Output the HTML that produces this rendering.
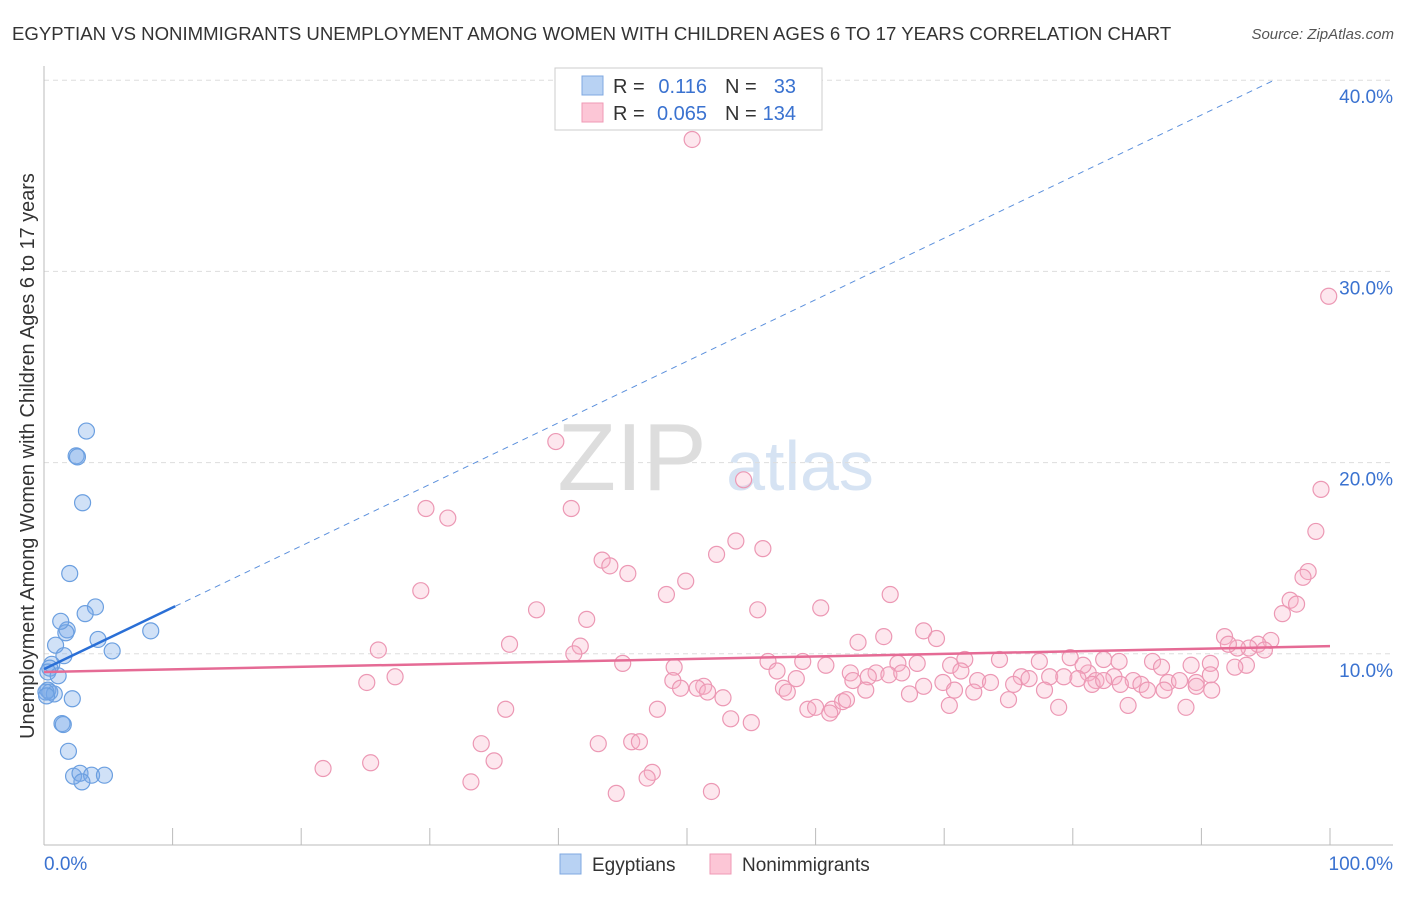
<!DOCTYPE html>
<html><head><meta charset="utf-8"><style>
body{margin:0;background:#fff;font-family:"Liberation Sans",sans-serif;}
svg text{font-family:"Liberation Sans",sans-serif;}
</style></head><body>
<svg id="c" width="1406" height="892">
<text x="12" y="40" font-size="18.6" fill="#333">EGYPTIAN VS NONIMMIGRANTS UNEMPLOYMENT AMONG WOMEN WITH CHILDREN AGES 6 TO 17 YEARS CORRELATION CHART</text>
<text x="1394" y="39" font-size="15" fill="#555" font-style="italic" text-anchor="end">Source: ZipAtlas.com</text>
<text x="632" y="490" font-size="96" fill="#ddd" font-family="Liberation Serif" text-anchor="middle">ZIP</text>
<text x="800" y="490" font-size="70" fill="#d6e3f3" text-anchor="middle">atlas</text>
<text transform="translate(34,456) rotate(-90)" font-size="19.9" fill="#333" text-anchor="middle">Unemployment Among Women with Children Ages 6 to 17 years</text>
<g id="axes"></g>
<g id="marks"></g>
<g>
<rect x="555" y="68" width="267" height="62" fill="#fff" stroke="#ccc"/>
<rect x="582" y="76" width="21" height="19" fill="#b8d2f3" stroke="#7fa8e0"/>
<rect x="582" y="103" width="21" height="19" fill="#fcc6d6" stroke="#ef9ab5"/>
<text x="613" y="93" font-size="20" fill="#333">R =</text><text x="707" y="93" font-size="20" fill="#3a72d0" text-anchor="end">0.116</text>
<text x="725" y="93" font-size="20" fill="#333">N =</text><text x="796" y="93" font-size="20" fill="#3a72d0" text-anchor="end">33</text>
<text x="613" y="120" font-size="20" fill="#333">R =</text><text x="707" y="120" font-size="20" fill="#3a72d0" text-anchor="end">0.065</text>
<text x="725" y="120" font-size="20" fill="#333">N =</text><text x="796" y="120" font-size="20" fill="#3a72d0" text-anchor="end">134</text>
</g>
<g>
<rect x="560" y="854" width="21" height="20" fill="#b8d2f3" stroke="#7fa8e0"/>
<text x="592" y="871" font-size="19" fill="#333">Egyptians</text>
<rect x="710" y="854" width="21" height="20" fill="#fcc6d6" stroke="#ef9ab5"/>
<text x="742" y="871" font-size="19" fill="#333">Nonimmigrants</text>
</g>
</svg>
<script>
const yTicks=[10,20,30,40];
const yTickLabels=["10.0%","20.0%","30.0%","40.0%"];
const xTickLabels=["0.0%","100.0%"];
const blueX=[3.3,2.5,2.6,3.0,2.0,4.0,3.2,1.8,1.7,1.3,4.2,8.3,5.3,0.9,1.55,0.6,0.45,0.3,1.1,0.3,0.45,0.8,0.15,2.2,1.4,1.5,1.9,2.3,2.8,3.7,4.7,2.95,0.2];
const blueY=[21.65,20.35,20.3,17.9,14.2,12.45,12.1,11.25,11.1,11.7,10.75,11.2,10.15,10.45,9.9,9.45,9.25,9.05,8.85,8.1,8.0,7.9,8.0,7.65,6.35,6.3,4.9,3.6,3.75,3.65,3.65,3.3,7.8];
const pinkX=[50.4,99.9,39.8,54.4,99.3,29.7,31.4,41.0,98.9,53.8,55.9,52.3,43.4,44.0,45.4,98.3,97.9,49.9,29.3,48.4,65.8,96.9,97.4,38.3,55.5,60.4,42.2,96.3,68.4,69.4,65.3,63.3,91.8,36.2,26.0,41.7,41.2,95.4,94.4,93.7,92.8,92.1,94.9,59.0,56.3,60.8,71.6,74.3,77.4,79.8,82.4,83.6,86.2,86.9,90.7,93.5,92.6,89.2,45.0,49.0,48.9,51.3,57.0,62.7,64.7,66.4,67.9,70.5,81.2,80.8,27.3,25.1,49.5,58.5,62.9,64.1,65.7,66.7,68.4,69.9,71.3,72.6,73.6,76.0,75.4,76.6,78.2,79.3,80.4,81.8,83.2,84.7,85.3,87.4,88.3,89.6,90.7,89.6,87.1,50.8,51.6,57.5,57.8,52.8,63.9,67.3,70.8,72.3,77.8,81.5,82.4,83.7,85.8,90.8,75.0,35.9,47.7,59.4,61.3,62.1,62.4,70.4,78.9,84.3,88.8,53.4,55.0,61.1,60.0,43.1,45.7,46.3,34.0,35.0,25.4,21.7,47.3,46.9,33.2,44.5,51.9];
const pinkY=[36.9,28.7,21.1,19.1,18.6,17.6,17.1,17.6,16.4,15.9,15.5,15.2,14.9,14.6,14.2,14.3,14.0,13.8,13.3,13.1,13.1,12.8,12.6,12.3,12.3,12.4,11.8,12.1,11.2,10.8,10.9,10.6,10.9,10.5,10.2,10.4,10.0,10.7,10.5,10.3,10.3,10.5,10.2,9.6,9.6,9.4,9.7,9.7,9.6,9.8,9.7,9.6,9.6,9.3,9.5,9.4,9.3,9.4,9.5,9.3,8.6,8.3,9.1,9.0,9.0,9.5,9.5,9.4,9.0,9.4,8.8,8.5,8.2,8.7,8.6,8.8,8.9,9.0,8.3,8.5,9.1,8.6,8.5,8.8,8.4,8.7,8.8,8.8,8.7,8.6,8.8,8.6,8.4,8.5,8.6,8.5,8.9,8.3,8.1,8.2,8.0,8.2,8.0,7.7,8.1,7.9,8.1,8.0,8.1,8.4,8.6,8.4,8.1,8.1,7.6,7.1,7.1,7.1,7.1,7.5,7.6,7.3,7.2,7.3,7.2,6.6,6.4,6.9,7.2,5.3,5.4,5.4,5.3,4.4,4.3,4.0,3.8,3.5,3.3,2.7,2.8];
const blueTrend=[9.2,0.322];   // intercept, slope (per % x)
const blueSolidEnd=10.2;
const pinkTrend=[9.05,0.0135];
const NS="http://www.w3.org/2000/svg";
const X0=44,X1=1330,Y0=845,Yk=19.12;
const sx=v=>X0+v*(X1-X0)/100, sy=v=>Y0-v*Yk;
function mk(tag,attrs,parent){const e=document.createElementNS(NS,tag);for(const k in attrs)e.setAttribute(k,attrs[k]);parent.appendChild(e);return e;}
const ax=document.getElementById('axes'), mg=document.getElementById('marks');
yTicks.forEach((t,i)=>{
 const g=mk('line',{x1:44,x2:1393,y1:sy(t),y2:sy(t),stroke:'#ddd','stroke-dasharray':'5,4'},ax);
 
 
 const l=mk('text',{x:1393,y:sy(t)+23,'font-size':19,fill:'#3a72d0','text-anchor':'end'},ax);
 l.textContent=yTickLabels[i];
 
 
});
mk('line',{x1:44,x2:44,y1:66,y2:845,stroke:'#bbb'},ax);
mk('line',{x1:44,x2:1393,y1:845,y2:845,stroke:'#bbb'},ax);
for(let k=0;k<=10;k++){const t=mk('line',{x1:sx(k*10),x2:sx(k*10),y1:828,y2:845,stroke:'#bbb'},ax);
 
 }
const xl0=mk('text',{x:44,y:870,'font-size':19,fill:'#3a72d0'},ax);xl0.textContent=xTickLabels[0];


const xl1=mk('text',{x:1393,y:870,'font-size':19,fill:'#3a72d0','text-anchor':'end'},ax);xl1.textContent=xTickLabels[1];


pinkX.forEach((x,i)=>{const c=mk('circle',{cx:sx(x),cy:sy(pinkY[i]),r:8,fill:'rgba(247,175,200,0.3)',stroke:'#ec98b4','stroke-width':1.2},mg);
 
 });
blueX.forEach((x,i)=>{const c=mk('circle',{cx:sx(x),cy:sy(blueY[i]),r:8,fill:'rgba(120,170,232,0.35)',stroke:'#6b9fe0','stroke-width':1.2},mg);
 
 });
const bmax=blueSolidEnd;
const bt=x=>blueTrend[0]+blueTrend[1]*x;
const xEnd=(40.0-blueTrend[0])/blueTrend[1];
const bd=mk('line',{x1:sx(bmax),y1:sy(bt(bmax)),x2:sx(xEnd),y2:sy(bt(xEnd)),stroke:'#5a8fdc','stroke-width':1,'stroke-dasharray':'6,5'},mg);


const bs=mk('line',{x1:sx(0),y1:sy(bt(0)),x2:sx(bmax),y2:sy(bt(bmax)),stroke:'#2a6fd6','stroke-width':2.5},mg);


const pt=x=>pinkTrend[0]+pinkTrend[1]*x;
const pl=mk('line',{x1:sx(0),y1:sy(pt(0)),x2:sx(100),y2:sy(pt(100)),stroke:'#e56b95','stroke-width':2.5},mg);


</script>
</body></html>
